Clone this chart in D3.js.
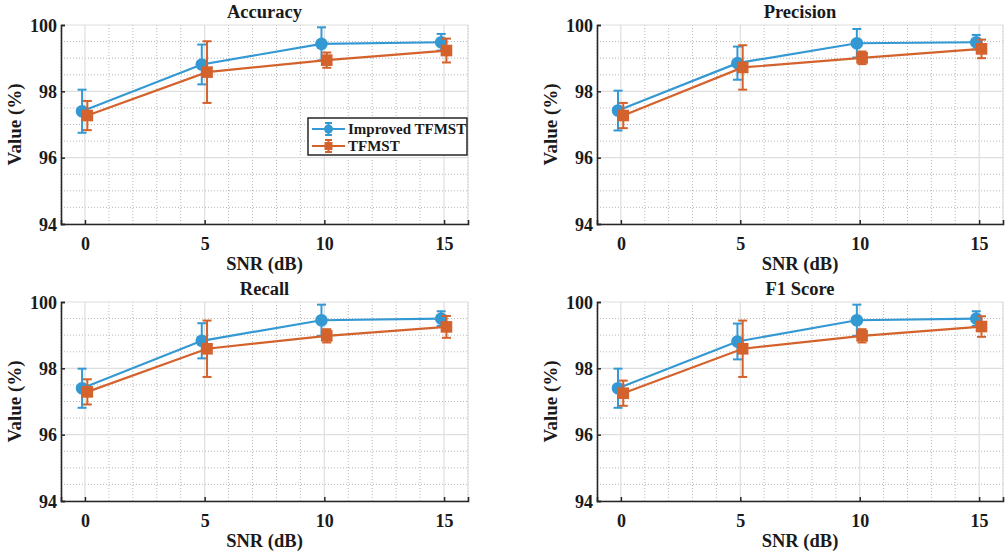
<!DOCTYPE html>
<html>
<head>
<meta charset="utf-8">
<script src="https://cdn.jsdelivr.net/npm/d3@7"></script>
<style>
  body { margin: 0; background: #fff; }
  svg text { font-family: "Liberation Serif", "Times New Roman", serif; font-weight: bold; fill: #1a1a1a; }
</style>
</head>
<body>
<div id="chart"></div>
<script>
// x values and metric names
const snr = [0, 5, 10, 15];
const metricNames = ["Accuracy", "Precision", "Recall", "F1 Score"];
const seriesNames = ["Improved TFMST", "TFMST"];
const xTicks = [0, 5, 10, 15];
const yTicks = [94, 96, 98, 100];

// means and error half-widths
const accImproved = [97.40, 98.81, 99.43, 99.48];
const accImprovedErr = [0.65, 0.60, 0.50, 0.25];
const accBase = [97.27, 98.58, 98.94, 99.23];
const accBaseErr = [0.44, 0.93, 0.23, 0.36];

const precImproved = [97.42, 98.85, 99.45, 99.48];
const precImprovedErr = [0.60, 0.50, 0.43, 0.22];
const precBase = [97.27, 98.72, 99.01, 99.28];
const precBaseErr = [0.38, 0.67, 0.19, 0.28];

const recImproved = [97.40, 98.83, 99.45, 99.50];
const recImprovedErr = [0.59, 0.53, 0.47, 0.22];
const recBase = [97.29, 98.59, 98.98, 99.25];
const recBaseErr = [0.38, 0.85, 0.20, 0.33];

const f1Improved = [97.40, 98.81, 99.45, 99.50];
const f1ImprovedErr = [0.59, 0.54, 0.47, 0.22];
const f1Base = [97.25, 98.59, 98.98, 99.26];
const f1BaseErr = [0.38, 0.85, 0.20, 0.31];

const improvedAll = [accImproved, precImproved, recImproved, f1Improved];
const improvedErrAll = [accImprovedErr, precImprovedErr, recImprovedErr, f1ImprovedErr];
const baseAll = [accBase, precBase, recBase, f1Base];
const baseErrAll = [accBaseErr, precBaseErr, recBaseErr, f1BaseErr];

const colors = ["#3499d3", "#d4622c"];
const offsets = [-0.12, 0.1]; // small horizontal dodge between the two series

const svg = d3.select("#chart").append("svg")
  .attr("width", 1006)
  .attr("height", 555);

// panel boxes in pixels
const cols = [[61, 468], [597, 1003]];
const rows = [[25, 224], [302, 501]];

metricNames.forEach(function(name, i) {
  const [left, right] = cols[i % 2];
  const [top, bottom] = rows[Math.floor(i / 2)];

  const x = d3.scaleLinear().domain([-1, 16]).range([left, right]);
  const y = d3.scaleLinear().domain([94, 100]).range([bottom, top]);

  const g = svg.append("g");

  // minor grid (dotted)
  g.append("g").selectAll("line")
    .data(d3.range(-1, 17).filter(v => xTicks.indexOf(v) < 0))
    .join("line")
      .attr("x1", d => x(d)).attr("x2", d => x(d))
      .attr("y1", top).attr("y2", bottom)
      .attr("stroke", "#b8b8b8").attr("stroke-width", 1)
      .attr("stroke-dasharray", "1,2");
  g.append("g").selectAll("line")
    .data(d3.range(94.5, 100, 0.5).filter(v => v % 2 !== 0))
    .join("line")
      .attr("x1", left).attr("x2", right)
      .attr("y1", d => y(d)).attr("y2", d => y(d))
      .attr("stroke", "#b8b8b8").attr("stroke-width", 1)
      .attr("stroke-dasharray", "1,2");

  // major grid
  g.append("g").selectAll("line")
    .data(xTicks)
    .join("line")
      .attr("x1", d => x(d)).attr("x2", d => x(d))
      .attr("y1", top).attr("y2", bottom)
      .attr("stroke", "#dedede").attr("stroke-width", 1.2);
  g.append("g").selectAll("line")
    .data(yTicks)
    .join("line")
      .attr("x1", left).attr("x2", right)
      .attr("y1", d => y(d)).attr("y2", d => y(d))
      .attr("stroke", "#dedede").attr("stroke-width", 1.2);
  // light box edge on the right
  g.append("line")
    .attr("x1", right).attr("x2", right).attr("y1", top).attr("y2", bottom)
    .attr("stroke", "#dedede").attr("stroke-width", 1.2);

  // axes
  const xAxis = d3.axisBottom(x).tickValues(xTicks).tickSize(-4).tickPadding(13);
  const yAxis = d3.axisLeft(y).tickValues(yTicks).tickFormat(d3.format("d")).tickSize(-4).tickPadding(4);
  const gx = g.append("g").attr("transform", "translate(0," + bottom + ")").call(xAxis);
  const gy = g.append("g").attr("transform", "translate(" + left + ",0)").call(yAxis);
  [gx, gy].forEach(function(a) {
    a.select(".domain").attr("stroke", "#262626").attr("stroke-width", 1.6);
    a.selectAll(".tick line").attr("stroke", "#262626").attr("stroke-width", 1.5);
    a.selectAll(".tick text")
      .style("font-family", '"Liberation Serif", serif')
      .style("font-weight", "bold")
      .style("font-size", "18px")
      .attr("fill", "#1a1a1a");
  });
  gy.selectAll(".tick text").attr("dy", "0.34em");

  // titles and labels
  svg.append("text")
    .attr("x", (left + right) / 2).attr("y", top - 7)
    .attr("text-anchor", "middle")
    .style("font-size", "18.5px")
    .text(name);
  svg.append("text")
    .attr("x", (left + right) / 2).attr("y", bottom + 45.5)
    .attr("text-anchor", "middle")
    .style("font-size", "18.5px")
    .text("SNR (dB)");
  svg.append("text")
    .attr("transform", "translate(" + (left - 40) + "," + ((top + bottom) / 2) + ") rotate(-90)")
    .attr("text-anchor", "middle")
    .style("font-size", "19px")
    .text("Value (%)");

  // series
  const series = [
    { means: improvedAll[i], errs: improvedErrAll[i] },
    { means: baseAll[i], errs: baseErrAll[i] }
  ];
  series.forEach(function(s, k) {
    const pts = snr.map((v, j) => ({ x: v + offsets[k], m: s.means[j], e: s.errs[j] }));
    const sg = g.append("g");
    sg.append("path")
      .datum(pts)
      .attr("fill", "none")
      .attr("stroke", colors[k])
      .attr("stroke-width", 2.2)
      .attr("d", d3.line().x(d => x(d.x)).y(d => y(d.m)));
    // error bars
    sg.selectAll(".bar").data(pts).join("line")
      .attr("x1", d => x(d.x)).attr("x2", d => x(d.x))
      .attr("y1", d => y(d.m - d.e)).attr("y2", d => y(d.m + d.e))
      .attr("stroke", colors[k]).attr("stroke-width", 2);
    sg.selectAll(".capTop").data(pts).join("line")
      .attr("x1", d => x(d.x) - 4.5).attr("x2", d => x(d.x) + 4.5)
      .attr("y1", d => y(d.m + d.e)).attr("y2", d => y(d.m + d.e))
      .attr("stroke", colors[k]).attr("stroke-width", 2);
    sg.selectAll(".capBot").data(pts).join("line")
      .attr("x1", d => x(d.x) - 4.5).attr("x2", d => x(d.x) + 4.5)
      .attr("y1", d => y(d.m - d.e)).attr("y2", d => y(d.m - d.e))
      .attr("stroke", colors[k]).attr("stroke-width", 2);
    if (k === 0) {
      sg.selectAll("circle").data(pts).join("circle")
        .attr("cx", d => x(d.x)).attr("cy", d => y(d.m))
        .attr("r", 6.3).attr("fill", colors[k]);
    } else {
      sg.selectAll("rect").data(pts).join("rect")
        .attr("x", d => x(d.x) - 5.8).attr("y", d => y(d.m) - 5.8)
        .attr("width", 11.6).attr("height", 11.6)
        .attr("fill", colors[k]);
    }
  });

  // legend only in the first panel
  if (i === 0) {
    const lg = svg.append("g").attr("transform", "translate(308,118)");
    lg.append("rect")
      .attr("width", 159).attr("height", 37)
      .attr("fill", "#fff").attr("stroke", "#262626").attr("stroke-width", 1.5);
    seriesNames.forEach(function(sn, k) {
      const ly = 11 + k * 17;
      lg.append("line").attr("x1", 4).attr("x2", 37).attr("y1", ly).attr("y2", ly)
        .attr("stroke", colors[k]).attr("stroke-width", 2.2);
      lg.append("line").attr("x1", 20.5).attr("x2", 20.5).attr("y1", ly - 6).attr("y2", ly + 6)
        .attr("stroke", colors[k]).attr("stroke-width", 2);
      lg.append("line").attr("x1", 17).attr("x2", 24).attr("y1", ly - 6).attr("y2", ly - 6)
        .attr("stroke", colors[k]).attr("stroke-width", 2);
      lg.append("line").attr("x1", 17).attr("x2", 24).attr("y1", ly + 6).attr("y2", ly + 6)
        .attr("stroke", colors[k]).attr("stroke-width", 2);
      if (k === 0) {
        lg.append("circle").attr("cx", 20.5).attr("cy", ly).attr("r", 4.5).attr("fill", colors[k]);
      } else {
        lg.append("rect").attr("x", 16.5).attr("y", ly - 4).attr("width", 8).attr("height", 8).attr("fill", colors[k]);
      }
      lg.append("text")
        .attr("x", 40).attr("y", ly + 5)
        .style("font-size", "15px")
        .text(sn);
    });
  }
});
</script>
</body>
</html>
